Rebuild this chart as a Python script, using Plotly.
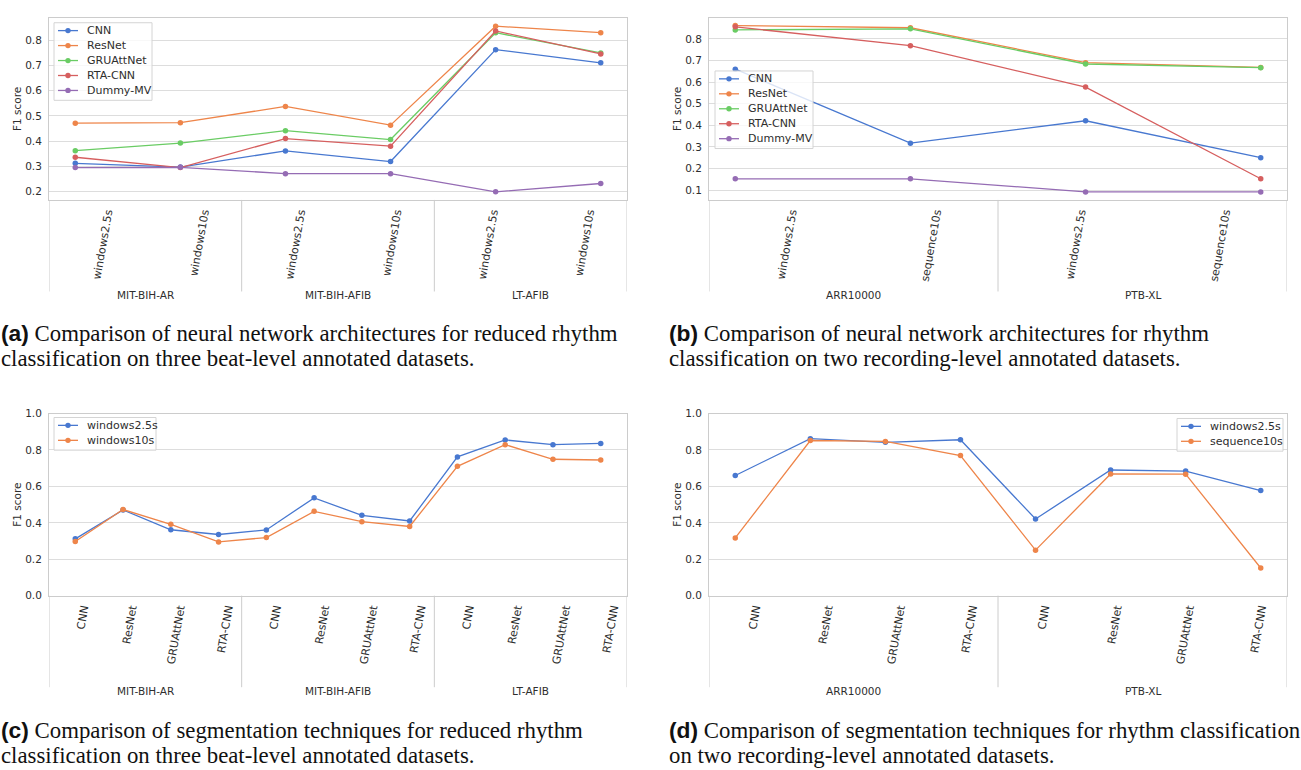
import plotly.graph_objects as go

W, H = 1301, 770

# ---------------- data ----------------
beat_datasets = ["MIT-BIH-AR", "MIT-BIH-AFIB", "LT-AFIB"]
beat_segments = ["windows2.5s", "windows10s"]
rec_datasets = ["ARR10000", "PTB-XL"]
rec_segments = ["windows2.5s", "sequence10s"]
models = ["CNN", "ResNet", "GRUAttNet", "RTA-CNN"]
dummy_name = "Dummy-MV"

# (a) F1 score, ordered: dataset -> segmentation
cnn_beat = [0.312, 0.297, 0.361, 0.319, 0.762, 0.710]
resnet_beat = [0.471, 0.473, 0.537, 0.463, 0.855, 0.829]
gruattnet_beat = [0.362, 0.392, 0.441, 0.406, 0.829, 0.749]
rtacnn_beat = [0.336, 0.295, 0.410, 0.380, 0.836, 0.745]
dummy_beat = [0.295, 0.296, 0.271, 0.271, 0.199, 0.232]

# (b) F1 score, ordered: dataset -> segmentation
cnn_rec = [0.660, 0.317, 0.421, 0.250]
resnet_rec = [0.862, 0.852, 0.690, 0.668]
gruattnet_rec = [0.842, 0.847, 0.684, 0.667]
rtacnn_rec = [0.856, 0.769, 0.577, 0.152]
dummy_rec = [0.152, 0.152, 0.091, 0.091]

colors = ["#4878d0", "#ee854a", "#6acc64", "#d65f5f", "#956cb4"]

captions = {
    "a": ("(a)", "Comparison of neural network architectures for reduced rhythm",
          "classification on three beat-level annotated datasets."),
    "b": ("(b)", "Comparison of neural network architectures for rhythm",
          "classification on two recording-level annotated datasets."),
    "c": ("(c)", "Comparison of segmentation techniques for reduced rhythm",
          "classification on three beat-level annotated datasets."),
    "d": ("(d)", "Comparison of segmentation techniques for rhythm classification",
          "on two recording-level annotated datasets."),
}

# ---------------- layout geometry (pixels) ----------------
def px_x(v):
    return v / W

def px_y(v):
    return 1 - v / H

LEFT = (49, 627)
RIGHT = (709, 1287)
TOP = (12, 197, 290, 294)      # plot top, plot bottom, label-area bottom, group-label y
BOTTOM = (414, 599, 692, 696)

TEXT = "#2e2e2e"
GRID = "#dddddd"
SPINE = "#cccccc"
FONT = "DejaVu Sans"

fig = go.Figure()

beat_series = [cnn_beat, resnet_beat, gruattnet_beat, rtacnn_beat, dummy_beat]
rec_series = [cnn_rec, resnet_rec, gruattnet_rec, rtacnn_rec, dummy_rec]
names5 = models + [dummy_name]

# panel c/d series: per segmentation, across dataset -> model
def by_segmentation(series, n_seg, n_ds):
    out = []
    for s in range(n_seg):
        vals = []
        for d in range(n_ds):
            for m in series[:4]:
                vals.append(m[d * n_seg + s])
        out.append(vals)
    return out

seg_beat = by_segmentation(beat_series, len(beat_segments), len(beat_datasets))
seg_rec = by_segmentation(rec_series, len(rec_segments), len(rec_datasets))

panels = [
    # id, xdom, ydom, series, names, groups, sublabels, yrange, dtick, legend box (x0, y0, width)
    (1, LEFT, TOP, beat_series, names5, beat_datasets, beat_segments, [0.167, 0.888], 0.1, (54, 17, 98)),
    (2, RIGHT, TOP, rec_series, names5, rec_datasets, rec_segments, [0.054, 0.898], 0.1, (715, 66, 98)),
    (3, LEFT, BOTTOM, seg_beat, beat_segments, beat_datasets, models, [0, 1], 0.2, (54, 418, 102)),
    (4, RIGHT, BOTTOM, seg_rec, rec_segments, rec_datasets, models, [0, 1], 0.2, (1177, 419, 106)),
]

shapes = []
annotations = []
for pid, xd, yd, series, names, groups, subs, yr, dt, lbox in panels:
    n = len(groups) * len(subs)
    xs = list(range(n))
    for i, (vals, nm) in enumerate(zip(series, names)):
        fig.add_trace(go.Scatter(
            x=xs, y=vals, name=nm, mode="lines+markers",
            line=dict(color=colors[i], width=1.3),
            marker=dict(color=colors[i], size=5.5),
            xaxis=f"x{pid}", yaxis=f"y{pid}", showlegend=False,
        ))
    # invisible trace to activate label axis
    fig.add_trace(go.Scatter(x=[], y=[], xaxis=f"x{pid+4}", yaxis=f"y{pid}",
                             showlegend=False, hoverinfo="skip"))
    m = 0.05 * (n - 1)
    xdom = [px_x(xd[0]), px_x(xd[1])]
    ydom = [px_y(yd[1]), px_y(yd[0])]
    fig.update_layout(**{
        f"xaxis{pid}": dict(domain=xdom, anchor=f"y{pid}", range=[-m, n - 1 + m],
                            showticklabels=False, showgrid=False, zeroline=False,
                            showline=True, linecolor=SPINE, linewidth=1, mirror=True,
                            ticks=""),
        f"xaxis{pid+4}": dict(overlaying=f"x{pid}", anchor=f"y{pid}", range=[0, n],
                              tickmode="array",
                              tickvals=[i + 0.5 for i in range(n)],
                              ticktext=[subs[i % len(subs)] for i in range(n)],
                              tickangle=-80, showgrid=False, zeroline=False,
                              showline=False, ticks="", side="bottom",
                              tickfont=dict(family=FONT, size=11, color=TEXT),
                              ticklabelstandoff=3, ticklabelshift=10),
        f"yaxis{pid}": dict(domain=ydom, anchor=f"x{pid}", range=yr, dtick=dt, tick0=0,
                            tickformat=".1f", showgrid=True, gridcolor=GRID, gridwidth=1,
                            zeroline=False, showline=True, linecolor=SPINE, mirror=True,
                            ticks="", tickfont=dict(family=FONT, size=10.5, color=TEXT),
                            ticklabelstandoff=4,
                            title=dict(text="F1 score", standoff=1,
                                       font=dict(family=FONT, size=10.5, color=TEXT))),
    })
    nsub = len(subs)
    for k in range(len(groups) + 1):
        shapes.append(dict(type="line", xref=f"x{pid+4}", yref="paper",
                           x0=k * nsub, x1=k * nsub,
                           y0=px_y(yd[1]), y1=px_y(yd[2]),
                           line=dict(color=SPINE, width=1)))
    for k, g in enumerate(groups):
        annotations.append(dict(text=g, xref=f"x{pid+4}", yref="paper",
                                x=k * nsub + nsub / 2, y=px_y(yd[3]),
                                xanchor="center", yanchor="middle", showarrow=False,
                                font=dict(family=FONT, size=10.5, color=TEXT)))

    # legend (matplotlib-style compact box)
    lx, ly, lw = lbox
    step = 15.2
    lh = 8 + (len(names) - 1) * step + 10
    shapes.append(dict(type="rect", xref="paper", yref="paper", layer="above",
                       x0=px_x(lx), x1=px_x(lx + lw), y0=px_y(ly + lh), y1=px_y(ly),
                       fillcolor="rgba(255,255,255,0.8)",
                       line=dict(color="#d4d4d4", width=1)))
    for i, nm in enumerate(names):
        yy = ly + 8 + i * step
        shapes.append(dict(type="line", xref="paper", yref="paper", layer="above",
                           x0=px_x(lx + 4), x1=px_x(lx + 24), y0=px_y(yy), y1=px_y(yy),
                           line=dict(color=colors[i], width=1.3)))
        shapes.append(dict(type="circle", xref="paper", yref="paper", layer="above",
                           x0=px_x(lx + 14 - 2.7), x1=px_x(lx + 14 + 2.7),
                           y0=px_y(yy + 2.7), y1=px_y(yy - 2.7),
                           fillcolor=colors[i], line=dict(width=0)))
        annotations.append(dict(text=nm, xref="paper", yref="paper",
                                x=px_x(lx + 31), y=px_y(yy), xanchor="left",
                                yanchor="middle", showarrow=False,
                                font=dict(family=FONT, size=11, color=TEXT)))

# captions
cap_pos = {"a": (0, 332), "b": (668, 332), "c": (0, 735), "d": (668, 735)}
for key, (lab, l1, l2) in captions.items():
    x0, y0 = cap_pos[key]
    annotations.append(dict(
        text=f"<span style='font-family:Liberation Sans'><b>{lab}</b></span> {l1}",
        xref="paper", yref="paper", x=px_x(x0 - 1), y=px_y(y0),
        xanchor="left", yanchor="middle", showarrow=False, align="left",
        font=dict(family="Liberation Serif", size=22.8, color="#111111")))
    annotations.append(dict(
        text=l2, xref="paper", yref="paper", x=px_x(x0 - 1), y=px_y(y0 + 26),
        xanchor="left", yanchor="middle", showarrow=False, align="left",
        font=dict(family="Liberation Serif", size=22.8, color="#111111")))

fig.update_layout(
    width=W, height=H, autosize=False,
    margin=dict(l=0, r=0, t=0, b=0, pad=0),
    paper_bgcolor="white", plot_bgcolor="white",
    shapes=shapes, annotations=annotations,
    showlegend=False,
    font=dict(family=FONT, color=TEXT),
)

fig.write_html("out.html", config={"displayModeBar": False},
               post_script="document.body.style.margin='0';document.body.style.overflow='hidden';")
